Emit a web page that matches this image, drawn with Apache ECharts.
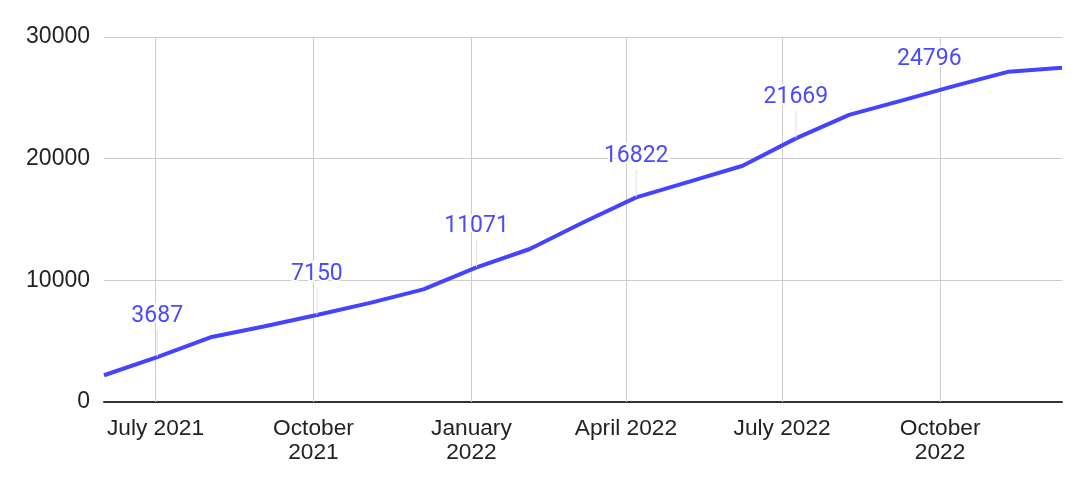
<!DOCTYPE html>
<html>
<head>
<meta charset="utf-8">
<script src="https://cdn.jsdelivr.net/npm/echarts@6/dist/echarts.min.js"></script>
<style>
html,body{margin:0;padding:0;background:#fff;}
#chart{width:1086px;height:488px;}
</style>
</head>
<body>
<div id="chart"></div>
<script>
// ---- data ----
const dates = ['2021-06-01','2021-07-02','2021-08-02','2021-09-02','2021-10-03','2021-11-03','2021-12-04',
  '2022-01-04','2022-02-04','2022-03-07','2022-04-07','2022-05-08','2022-06-08','2022-07-09',
  '2022-08-09','2022-09-09','2022-10-10','2022-11-10','2022-12-11'];
const values = [2200, 3687, 5318, 6200, 7150, 8150, 9260, 11071, 12575, 14750, 16822, 18110, 19420, 21669,
  23600, 24796, 26000, 27150, 27476];
const labelledIdx = [1, 4, 7, 10, 13, 15];
const tickDates = ['2021-07-01','2021-10-01','2022-01-01','2022-04-01','2022-07-01','2022-10-01'];
const tickLabels = ['July 2021','October\n2021','January\n2022','April 2022','July 2022','October\n2022'];
const yTicks = [0, 10000, 20000, 30000];
const xMin = '2021-06-01', xMax = '2022-12-11';

const ts = s => { const [y, m, d] = s.split('-').map(Number); return Date.UTC(y, m - 1, d); };
const tickTs = tickDates.map(ts);

const seriesData = dates.map((d, i) => {
  const item = { value: [ts(d), values[i]] };
  if (labelledIdx.includes(i)) item.label = { show: true };
  if (i === 15) item.labelLine = { show: false };
  return item;
});

const chart = echarts.init(document.getElementById('chart'));
chart.setOption({
  animation: false,
  backgroundColor: '#ffffff',
  grid: { left: 104, right: 24, top: 37, bottom: 86, containLabel: false },
  xAxis: {
    type: 'value',
    min: ts(xMin), max: ts(xMax),
    axisLine: { show: true, onZero: true, lineStyle: { color: '#333333', width: 2 } },
    axisTick: { show: false },
    splitLine: { show: false },
    axisLabel: {
      show: true,
      customValues: tickTs,
      formatter: v => tickLabels[tickTs.indexOf(v)] || '',
      color: '#222222',
      fontFamily: 'Arial',
      fontSize: 22.7,
      lineHeight: 24,
      margin: 15,
      hideOverlap: false
    }
  },
  yAxis: {
    type: 'value',
    min: 0, max: 30000, interval: 10000,
    axisLine: { show: false },
    axisTick: { show: false },
    splitLine: { show: true, lineStyle: { color: '#cccccc', width: 1 } },
    axisLabel: {
      customValues: yTicks,
      formatter: v => String(v),
      color: '#222222',
      fontFamily: 'Arial',
      fontSize: 23,
      margin: 14
    }
  },
  series: [{
    type: 'line',
    data: seriesData,
    showSymbol: true,
    symbol: 'circle',
    symbolSize: 1,
    lineStyle: { color: '#4444ff', width: 4 },
    itemStyle: { color: 'rgba(0,0,0,0)' },
    z: 5,
    label: {
      show: false,
      position: 'top',
      distance: 6,
      color: '#4a4aff',
      fontFamily: 'Roboto',
      fontSize: 23,
      textBorderColor: '#ffffff',
      textBorderWidth: 4,
      formatter: p => String(p.value[1])
    },
    labelLayout: function (params) {
      const o = { dy: -23 };
      if (params.dataIndex === 15) o.dx = 27;
      return o;
    },
    labelLine: { show: true, lineStyle: { color: '#e2e2e2', width: 1 } },
    markLine: {
      silent: true,
      symbol: 'none',
      animation: false,
      lineStyle: { color: '#cccccc', width: 1, type: 'solid' },
      label: { show: false },
      z: 1,
      data: tickTs.map(t => ({ xAxis: t }))
    }
  }]
});
</script>
</body>
</html>
